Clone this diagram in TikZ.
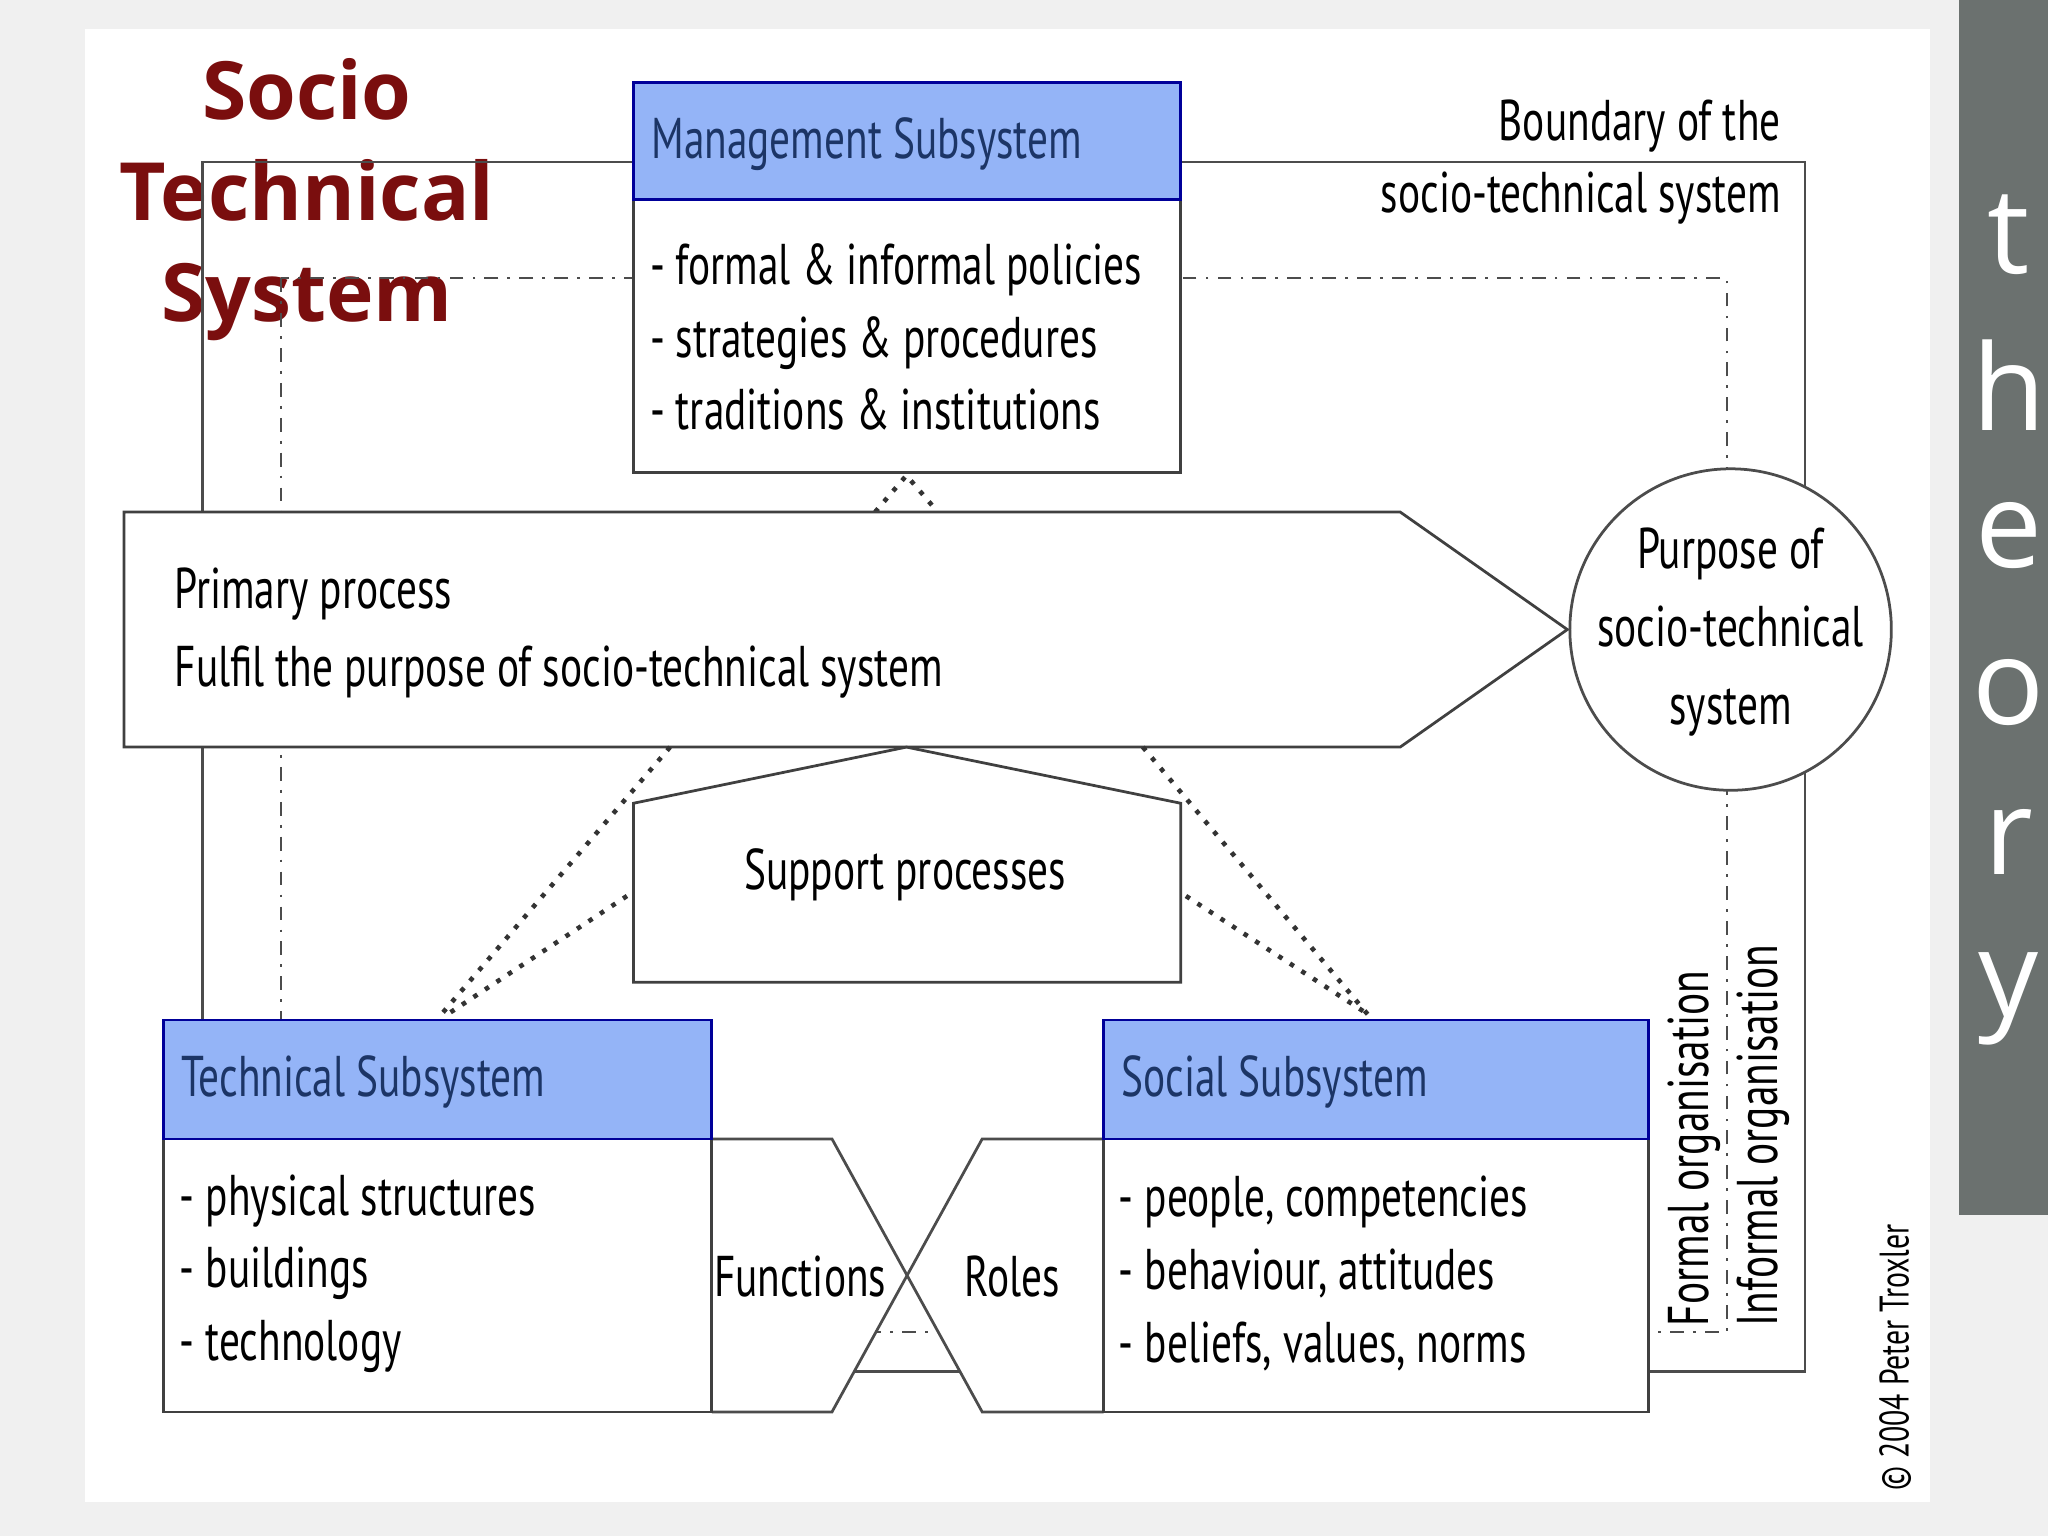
\documentclass[tikz,border=0pt]{standalone}
\usepackage{fontspec}
\setmainfont{PT Sans}[FakeStretch=0.72]
\newfontfamily\titlefont{Open Sans}
\newfontfamily\theoryfont{Open Sans}
\begin{document}
\begin{tikzpicture}[x=0.01cm,y=-0.01cm,
  lbl/.style={font=\fontsize{12.5}{15.8}\selectfont,inner sep=0pt},
  lblw/.style={font=\fontsize{12.5}{17}\selectfont,inner sep=0pt},
  box/.style={draw=black!75,line width=0.6pt,fill=white},
  hdr/.style={draw=blue!60!black,line width=0.6pt,fill=hdrblue},
  solidb/.style={draw=black!70,line width=0.6pt},
  dashdot/.style={draw=black!70,line width=0.5pt,dash pattern=on 3pt off 2pt on 0.6pt off 2pt},
  dots/.style={draw=black!80,line width=1pt,dotted}]
\definecolor{hdrblue}{HTML}{94B4F7}
\definecolor{hdrtext}{HTML}{1C3566}
\definecolor{titlered}{HTML}{7A0E0E}
\definecolor{bargrey}{HTML}{6B716F}
% background
\fill[gray!12] (0,0) rectangle (1568,1176);
\useasboundingbox (0,0) rectangle (1568,1176);
\fill[white] (65,22) rectangle (1478,1150);
\fill[bargrey] (1500,0) rectangle (1568,930);
\foreach \l/\y in {t/180,h/295,e/410,o/530,r/645,y/765}
  \node[text=white,font=\theoryfont\fontsize{26}{30}\selectfont] (th\l) at (1538,\y) {\l};
% title
\node[text=titlered,font=\titlefont\bfseries\fontsize{17.5}{22}\selectfont,align=center] (title) at (235,153) {Socio\\Technical\\System};
% boundaries
\draw[solidb] (155,124) rectangle (1382,1050);
\draw[dashdot] (215,213) rectangle (1322,1020);
% functions / roles shapes (fill excluding lower triangle)
\fill[white] (545,872) -- (637,872) -- (694.5,976) -- (637,1081) -- (545,1081) -- cycle;
\fill[white] (845,872) -- (752,872) -- (694.5,976) -- (752,1081) -- (845,1081) -- cycle;
\fill[white] (637,872) -- (752,872) -- (694.5,976) -- cycle;
\draw[solidb] (545,872) -- (637,872) -- (752,1081) -- (845,1081);
\draw[solidb] (845,872) -- (752,872) -- (637,1081) -- (545,1081);
\node[lbl,anchor=west] (func) at (546,977) {Functions};
\node[lbl,anchor=east] (roles) at (812,977) {Roles};
% management
\draw[box] (485,63) rectangle (904,362);
\draw[hdr] (485,63) rectangle (904,153);
\node[lbl,anchor=west,text=hdrtext] (mgmt) at (498,110) {Management Subsystem};
\node[lbl,anchor=west,align=left] (mgmtitems) at (497,258) {- formal \& informal policies\\- strategies \& procedures\\- traditions \& institutions};
\coordinate (mb) at (694,364);
\draw[dots] (670,392) -- (mb) -- (718,392);
% primary process
\draw[box] (95,392) -- (1072,392) -- (1200,482) -- (1072,572) -- (95,572) -- cycle;
\node[lblw,anchor=west,align=left] (prim) at (133,485) {Primary process\\Fulfil the purpose of socio-technical system};
% circle
\node[draw=black!70,line width=0.6pt,fill=white,circle,minimum size=2.46cm,inner sep=0pt] (purpose) at (1325,482) {};
\node[lblw,align=center] (purposet) at (1325,484) {Purpose of\\socio-technical\\system};
% support
\draw[box] (485,615) -- (694,572) -- (904,615) -- (904,752) -- (485,752) -- cycle;
\node[lbl] (supp) at (693,670) {Support processes};
% technical
\draw[box] (125,781) rectangle (545,1081);
\draw[hdr] (125,781) rectangle (545,872);
\node[lbl,anchor=west,text=hdrtext] (tech) at (138,828) {Technical Subsystem};
\node[lbl,anchor=west,align=left] (techitems) at (137,975) {- physical structures\\- buildings\\- technology};
% social
\draw[box] (845,781) rectangle (1262,1081);
\draw[hdr] (845,781) rectangle (1262,872);
\node[lbl,anchor=west,text=hdrtext] (soc) at (858,828) {Social Subsystem};
\node[lbl,anchor=west,align=left] (socitems) at (856,975) {- people, competencies\\- behaviour, attitudes\\- beliefs, values, norms};
% dotted connections
\draw[dots] (513,572) -- (335,780);
\draw[dots] (480,686) -- (345,775);
\draw[dots] (875,572) -- (1050,780);
\draw[dots] (908,686) -- (1045,775);
% boundary text
\node[lbl,anchor=east,align=right] (bound) at (1364,124) {Boundary of the\\socio-technical system};
% vertical texts
\node[lbl,rotate=90,anchor=west] (formal) at (1297,1016) {Formal organisation};
\node[lbl,rotate=90,anchor=west] (informal) at (1350,1016) {Informal organisation};
\node[font=\fontsize{9}{11}\selectfont,rotate=90,anchor=west,inner sep=0pt] (copy) at (1451,1142) {© 2004 Peter Troxler};
\end{tikzpicture}
\end{document}
